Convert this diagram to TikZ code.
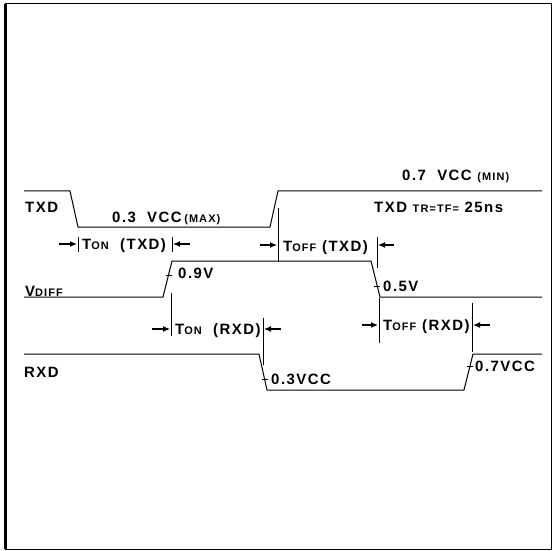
\documentclass[tikz,border=0pt]{standalone}
\usepackage{fontspec}
\setmainfont{Liberation Sans}[LetterSpace=10]
\usetikzlibrary{arrows.meta}
\newcommand\lo[1]{{\fontsize{11}{11}\selectfont #1}}

\begin{document}
\begin{tikzpicture}[x=1bp,y=-1bp,
	lbl/.style={anchor=base west,inner sep=0pt,font=\bfseries\fontsize{15}{15}\selectfont},
	wave/.style={line width=1bp},
	pointer/.style={-{Latex[length=7bp,width=6bp]},line width=1.2bp}]
	\useasboundingbox (0,0) rectangle (553,551);
	% the frame
	\draw[line width=1bp] (5,4) rectangle (551,549);
	\draw[line width=3bp] (5,4) -- (5,549);
	% the three signals
	\draw[wave] (24,191) -- (70,191) -- (78,227) -- (270,227) -- (278,191) -- (542,191);
	\draw[wave] (24,297) -- (163,297) -- (172,261) -- (371,261) -- (380,297) -- (542,297);
	\draw[wave] (24,354) -- (259,354) -- (267,390) -- (464,390) -- (473,354) -- (542,354);
	% signal names
	\node[lbl] (txd) at (25,212.5) {TXD};
	\node[lbl] (vdiff) at (25,296) {V\lo{DIFF}};
	\node[lbl] (rxd) at (24,377.5) {RXD};
	% levels
	\node[lbl] (vlow) at (112,222.5) {0.3\ \ VCC\,\lo{(MAX)}};
	\node[lbl] (vhigh) at (402,180.5) {0.7\ \ VCC \lo{(MIN)}};
	\node[lbl] (trtf) at (374,212.5) {TXD \lo{TR=TF=} 25ns};
	% thresholds
	\draw[wave] (166,275) -- (172,275);
	\node[lbl] (thr09) at (178,278.5) {0.9V};
	\draw[wave] (374,286) -- (380,286);
	\node[lbl] (thr05) at (383,291.5) {0.5V};
	\draw[wave] (262,379) -- (268,379);
	\node[lbl] (thr03) at (271,384.5) {0.3VCC};
	\draw[wave] (467,366) -- (473,366);
	\node[lbl] (thr07) at (475,371.5) {0.7VCC};
	% Ton (TXD)
	\draw[wave] (78,237) -- (78,252);
	\draw[wave] (172,237) -- (172,252);
	\draw[pointer] (59,244) -- (77,244);
	\draw[pointer] (190,244) -- (173,244);
	\node[lbl] (tontxd) at (82,249.5) {T\lo{ON}\ \ (TXD)};
	% Toff (TXD)
	\draw[wave] (278,208) -- (278,262);
	\draw[wave] (377,237) -- (377,268);
	\draw[pointer] (260,245) -- (277,245);
	\draw[pointer] (394,245) -- (378,245);
	\node[lbl] (tofftxd) at (283,251) {T\lo{OFF} (TXD)};
	% Ton (RXD)
	\draw[wave] (171,293) -- (171,336);
	\draw[wave] (263,318) -- (263,365);
	\draw[pointer] (152,329) -- (170,329);
	\draw[pointer] (281,329) -- (264,329);
	\node[lbl] (tonrxd) at (175,334.5) {T\lo{ON}\ \ (RXD)};
	% Toff (RXD)
	\draw[wave] (379,298) -- (379,343);
	\draw[wave] (472,303) -- (472,352);
	\draw[pointer] (362,325) -- (378,325);
	\draw[pointer] (490,325) -- (473,325);
	\node[lbl] (toffrxd) at (383,330) {T\lo{OFF} (RXD)};
\end{tikzpicture}
\end{document}
